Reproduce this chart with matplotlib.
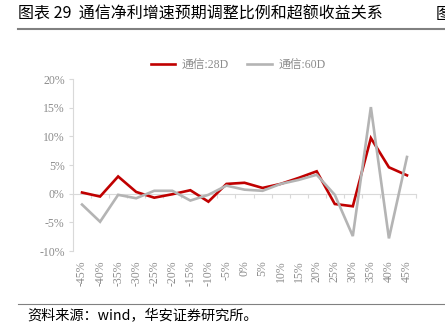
import numpy as np
import matplotlib.pyplot as plt
from matplotlib.lines import Line2D

plt.rcParams['font.family'] = ['Liberation Serif', 'Noto Sans CJK SC', 'DejaVu Sans']

# category axis: adjustment ratio of expected net profit growth
cats = ['-45%', '-40%', '-35%', '-30%', '-25%', '-20%', '-15%', '-10%', '-5%', '0%',
        '5%', '10%', '15%', '20%', '25%', '30%', '35%', '40%', '45%']
# excess return, %
ret_28d = [0.2, -0.5, 3.0, 0.3, -0.7, -0.1, 0.6, -1.4, 1.7, 1.9,
           1.0, 1.7, 2.75, 3.9, -1.8, -2.2, 9.7, 4.6, 3.2]
ret_60d = [-1.9, -4.9, -0.2, -0.8, 0.5, 0.5, -1.2, -0.2, 1.4, 0.7,
           0.5, 1.7, 2.4, 3.3, -0.2, -7.4, 15.1, -7.8, 6.4]
yticks = [-10, -5, 0, 5, 10, 15, 20]

W, H = 445, 335
fig = plt.figure(figsize=(W / 100, H / 100), dpi=100)
ax = fig.add_axes([73 / W, 1 - 251 / H, (416 - 73) / W, (251 - 79) / H])

x = np.arange(len(cats))
ax.plot(x, ret_28d, color='#c00000', lw=1.9, label='通信:28D', solid_joinstyle='miter')
ax.plot(x, ret_60d, color='#b4b4b4', lw=1.9, label='通信:60D', solid_joinstyle='miter')

ax.set_xlim(-0.5, len(cats) - 0.5)
ax.set_ylim(-10, 20)
ax.set_yticks(yticks)
ax.set_yticklabels([f'{v}%' for v in yticks])
ax.set_xticks(x)
ax.set_xticklabels(cats, rotation=90)

for s in ['top', 'right', 'bottom']:
    ax.spines[s].set_visible(False)
ax.spines['left'].set_color('#d9d9d9')
ax.spines['left'].set_linewidth(0.8)
ax.tick_params(axis='y', length=3, width=0.8, color='#d9d9d9', pad=3,
               labelsize=8.5, labelcolor='#8c8c8c')
ax.tick_params(axis='x', length=0, pad=7, labelsize=8.5, labelcolor='#8c8c8c')

# zero line with category boundary ticks
zx = ax.secondary_xaxis(1 / 3)
zx.set_xticks(np.arange(-0.5, len(cats), 1))
zx.tick_params(length=3, width=0.8, color='#d9d9d9', labelbottom=False)
zx.spines['bottom'].set_color('#d9d9d9')
zx.spines['bottom'].set_linewidth(0.8)

ax.legend(loc='upper center', bbox_to_anchor=(238 / W, 1 - 49 / H),
          bbox_transform=fig.transFigure, ncol=2, frameon=False, fontsize=8.5,
          labelcolor='#8c8c8c', handlelength=2.1, columnspacing=1.6, handletextpad=0.5)

fig.text(18 / W, 1 - 14 / H, '图表 29  通信净利增速预期调整比例和超额收益关系',
         fontsize=11.5, va='center', ha='left', color='#000000',
         family=['Noto Sans CJK SC'])
fig.text(436 / W, 1 - 14 / H, '图', fontsize=11.5, va='center', ha='left',
         family=['Noto Sans CJK SC'])
fig.add_artist(Line2D([18 / W, 1], [1 - 29 / H] * 2, color='#808080', lw=1.5))
fig.add_artist(Line2D([18 / W, 1], [1 - 304 / H] * 2, color='#808080', lw=0.8))
fig.text(27 / W, 1 - 316 / H, '资料来源：wind，华安证券研究所。', fontsize=10.2,
         va='center', ha='left', family=['Noto Sans CJK SC'])

fig.savefig('out.png', dpi=100)
